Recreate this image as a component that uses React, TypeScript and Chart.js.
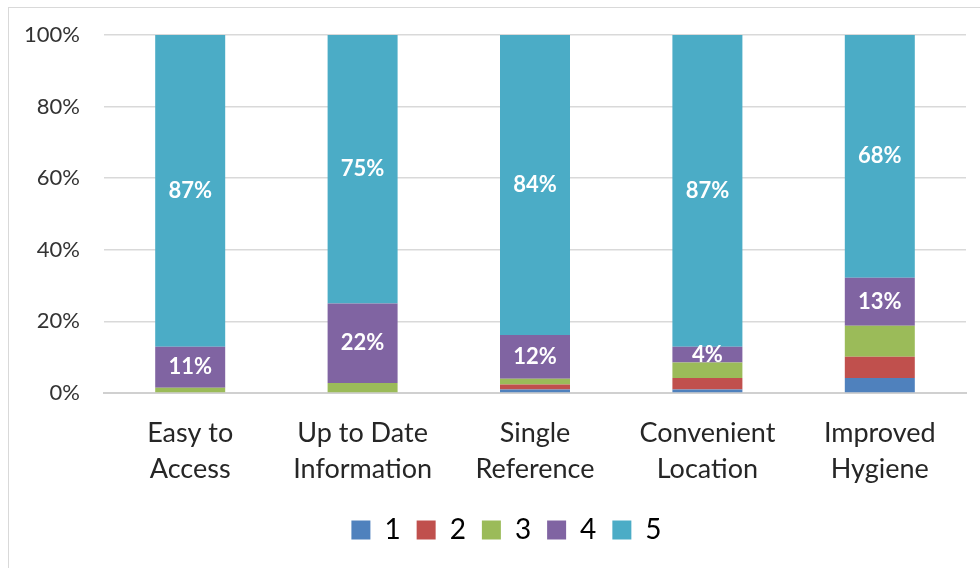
import React, { useEffect, useRef } from "react";
import { Chart, registerables } from "chart.js";

Chart.register(...registerables);

const categories: string[][] = [
  ["Easy to", "Access"],
  ["Up to Date", "Information"],
  ["Single", "Reference"],
  ["Convenient", "Location"],
  ["Improved", "Hygiene"],
];
const seriesNames = ["1", "2", "3", "4", "5"];
const s1 = [0, 0, 1.0, 1.0, 4.2];
const s2 = [0, 0, 1.4, 3.2, 5.9];
const s3 = [1.5, 2.8, 1.6, 4.3, 8.7];
const s4 = [11.4, 22.2, 12.2, 4.4, 13.4];
const s5 = [87.1, 75.0, 83.8, 87.1, 67.8];
const colors = ["#4f81bd", "#c0504d", "#9bbb59", "#8064a2", "#4bacc6"];
const labeledSeries = [3, 4];
const yTicks = [0, 20, 40, 60, 80, 100];

const FONT = "Lato, 'Open Sans', sans-serif";

const segLabels = {
  id: "segLabels",
  afterLayout(chart: any) {
    if (chart.legend) chart.legend.left += 38;
  },
  afterDatasetsDraw(chart: any) {
    const ctx = chart.ctx;
    ctx.save();
    ctx.fillStyle = "#ffffff";
    ctx.font = `bold 22px ${FONT}`;
    ctx.textAlign = "center";
    ctx.textBaseline = "middle";
    labeledSeries.forEach((di) => {
      const meta = chart.getDatasetMeta(di);
      meta.data.forEach((bar: any, i: number) => {
        const v = chart.data.datasets[di].data[i] as number;
        const y = (bar.y + bar.base) / 2;
        ctx.fillText(Math.round(v) + "%", bar.x, y);
      });
    });
    ctx.restore();
  },
};

export default function App() {
  const ref = useRef<HTMLCanvasElement>(null);
  useEffect(() => {
    const all = [s1, s2, s3, s4, s5];
    const chart = new Chart(ref.current!, {
      type: "bar",
      data: {
        labels: categories,
        datasets: all.map((d, i) => ({
          label: seriesNames[i],
          data: d,
          backgroundColor: colors[i],
          borderWidth: 0,
          categoryPercentage: 1,
          barPercentage: 0.406,
        })),
      },
      options: {
        animation: false,
        responsive: false,
        layout: { padding: { top: 27, right: 14, bottom: 14, left: 0 } },
        plugins: {
          tooltip: { enabled: false },
          legend: {
            position: "bottom",
            labels: {
              boxWidth: 19,
              boxHeight: 19,
              padding: 16,
              color: "#000",
              font: { family: FONT, size: 28 },
            },
          },
        },
        scales: {
          x: {
            stacked: true,
            grid: { display: false, drawTicks: false },
            border: { color: "#d0d0d0", width: 2 },
            ticks: {
              color: "#262626",
              padding: 22,
              font: { family: FONT, size: 27, lineHeight: 1.333 },
              maxRotation: 0,
            },
            afterFit(scale: any) {
              scale.height = 107;
            },
          },
          y: {
            stacked: true,
            min: 0,
            max: 100,
            grid: { color: "#d9d9d9", lineWidth: 1.5, drawTicks: false },
            border: { display: false },
            afterBuildTicks(scale: any) {
              scale.ticks = yTicks.map((v) => ({ value: v }));
            },
            ticks: {
              color: "#333333",
              padding: 24,
              font: { family: FONT, size: 22 },
              callback: (v: any) => v + "%",
            },
            afterFit(scale: any) {
              scale.width = 95;
              scale.paddingTop = 0;
              scale.paddingBottom = 0;
            },
          },
        },
      },
      plugins: [segLabels],
    });
    return () => chart.destroy();
  }, []);
  return (
    <div
      style={{
        position: "fixed",
        left: 8,
        top: 7,
        borderTop: "1px solid #d9d9d9",
        borderLeft: "1px solid #d9d9d9",
        background: "#fff",
      }}
    >
      <canvas ref={ref} width={971} height={560} style={{ display: "block" }} />
    </div>
  );
}
